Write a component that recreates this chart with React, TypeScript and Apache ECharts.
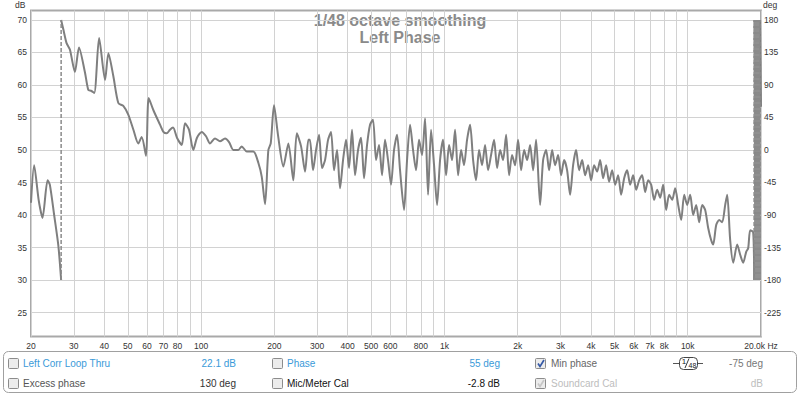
import React, { useEffect, useRef } from 'react';
import * as echarts from 'echarts';

// ---- data: min-phase trace (frequency in Hz, phase in degrees); wraps appear as -180 -> 180 jumps
const freqHz = [
  20, 20.6, 21.5, 22.3, 23.4, 23.9, 24.9, 25.9, 26.6,
  26.6, 27.2, 28.0, 28.9, 30.3, 31.5, 33.3, 34.4, 35.3, 36.4, 38.1, 40.3, 41.6, 43.6, 45.7, 47.9,
  50.2, 52.7, 55.2, 57.0, 59.4, 60.9, 63.7, 67.8, 70.0, 72.2, 74.5, 76.7, 79.6, 83.3, 85.9, 89.2,
  92.9, 96.2, 100.6, 104.8, 108.8, 114.1, 119.6, 125.4, 130.3, 135.7, 142.2, 146.9, 154, 164, 172,
  177.5, 183.2, 189, 193.3, 199.4, 207, 217.8, 228.4, 239.4, 247.4, 257.6, 267.5, 276,
  280, 288.5, 296.8, 305.3, 314.1, 323.2, 332.5, 342, 351.9, 362, 372.4, 383.2, 394.2, 405.6, 417.2,
  429.3, 441.6, 454.3, 467.4, 480.9, 494.7, 508.9, 523.6, 538.7, 554.2, 570.1, 586.6, 603.4, 620.8,
  638.7, 657.1, 682.5, 702.2, 722.4, 743.2, 764.6, 786.6, 809.3, 832.6, 856.6, 881.2, 906.6, 932.7,
  959.6, 987.2, 1016, 1045, 1075, 1106, 1138, 1171, 1204, 1239, 1275, 1312, 1349, 1388, 1428, 1469,
  1512, 1555, 1600, 1646, 1694, 1742, 1793, 1844, 1897, 1952, 2008, 2066, 2126, 2187, 2250, 2315,
  2381, 2473, 2544, 2618, 2693, 2771, 2850, 2933, 3017, 3104, 3193, 3285, 3380, 3477, 3577, 3681,
  3787, 3896, 4008, 4123, 4242, 4364, 4490, 4619, 4752, 4889, 5030, 5175, 5324, 5478, 5636, 5798,
  5965, 6137, 6314, 6496, 6683, 6875, 7073, 7277, 7487, 7702, 7924, 8152, 8387, 8629, 8878, 9134,
  9397, 9668, 9946, 10233, 10528, 10831, 11143, 11464, 11794, 12134, 12484, 12722, 13089, 13466,
  13854, 14253, 14525, 14944, 15374, 15965, 16425, 16898, 17385, 17717, 18055, 18575,
  18737, 18737, 18915, 18915, 19095, 19095, 19276, 19276, 19459, 19459, 19644, 19644, 19831, 19831, 20000,
];
const phaseDeg = [
  -73, -21, -69, -94, -42, -48, -90, -132, -180,
  180, 166, 148, 139, 108, 142, 108, 83, 82, 79, 155, 97, 134, 102, 65, 61,
  49, 28, 9, 18, -8, 72, 55, 35, 25, 23, 28, 31, 17, 7, 37, 28,
  0, 17, 25, 19, 9, 16, 12, 16, 11, 0, 0, 5, -2, -2, -18,
  -37, -75, 0, 9, 62, 21, -23, 9, -42, 23, 5, -30, 14,
  14, -28, 0, 21, -25, -14, 14, 25, -28, 0, -53, -14, 14, -25, 28,
  -35, 0, 17, -39, 7, 35, 42, -14, 7, -35, 14, -14, -48, 0,
  21, -28, -83, -14, 35, 0, -28, 14, -7, 44, -62, 28, -21, -76,
  -14, 14, -35, 7, -14, 28, -35, 0, -21, 14, 35, -14, -42, 0, -21, 7,
  -28, -7, 14, -25, 0, -14, 21, -35, -7, -21, 14, -28, 0, -14, 7, -28,
  14, -76, -14, 0, -28, 0, -21, -7, -35, -14, -28, -62, -21, 0, -28, -14,
  -35, -21, -42, -21, -30, -14, -39, -21, -44, -28, -48, -35, -62, -39, -28, -48,
  -35, -55, -42, -35, -58, -42, -48, -69, -55, -66, -48, -83, -62, -69, -53, -76,
  -97, -62, -76, -62, -90, -76, -100, -76, -83, -108, -125, -131, -104, -97,
  -100, -76, -62, -125, -156, -131, -145, -156, -141, -136, -111, -114,
  -180, 180, -180, 180, -180, 180, -180, 180, -180, 180, -180, 180, -180, 180, 60,
];

// ---- axes
const xGridValues = [20, 30, 40, 50, 60, 70, 80, 90, 100, 200, 300, 400, 500, 600, 700, 800, 900,
  1000, 2000, 3000, 4000, 5000, 6000, 7000, 8000, 9000, 10000, 20000];
const xLabelValues = [20, 30, 40, 50, 60, 70, 80, 100, 200, 300, 400, 500, 600, 800,
  1000, 2000, 3000, 4000, 5000, 6000, 7000, 8000, 10000, 20000];
const dbTicks = [25, 30, 35, 40, 45, 50, 55, 60, 65, 70];
const degTicks = [-225, -180, -135, -90, -45, 0, 45, 90, 135, 180];

const FONT = '"Liberation Sans", Arial, sans-serif';
const BLUE = '#3a9ad9';

function xLabel(v: number): string {
  const r = Math.round(v);
  if (r >= 20000) return '20.0k Hz';
  if (r >= 1000) return r / 1000 + 'k';
  return String(r);
}

function txt(text: string, x: number, y: number, fill: string, size = 10, align = 'left', weight = 'normal') {
  return {
    type: 'text', x, y, silent: true,
    style: {
      text, fill, fontSize: size, fontFamily: FONT, fontWeight: weight,
      align, textAlign: align, verticalAlign: 'middle', textVerticalAlign: 'middle',
    },
  };
}

function checkbox(x: number, y: number) {
  return {
    type: 'rect', silent: true,
    shape: { x, y, width: 10, height: 10, r: 1 },
    style: { fill: '#ececec', stroke: '#8c8c8c', lineWidth: 1 },
  };
}

function check(x: number, y: number, color: string) {
  return {
    type: 'polyline', silent: true,
    shape: { points: [[x + 2.5, y + 5], [x + 4.5, y + 8], [x + 8.5, y + 1.5]] },
    style: { stroke: color, lineWidth: 1.7, fill: 'none' },
  };
}

export default function App() {
  const ref = useRef<HTMLDivElement>(null);

  useEffect(() => {
    document.body.style.margin = '0';
    if (!ref.current) return;
    const chart = echarts.init(ref.current, undefined, { renderer: 'svg' });

    // split trace into solid segments and dashed wrap connectors
    const segments: number[][][] = [];
    const wraps: number[][][] = [];
    let cur: number[][] = [];
    for (let i = 0; i < freqHz.length; i++) {
      if (i > 0 && Math.abs(phaseDeg[i] - phaseDeg[i - 1]) >= 300) {
        segments.push(cur);
        wraps.push([[freqHz[i - 1], phaseDeg[i - 1]], [freqHz[i], phaseDeg[i]]]);
        cur = [];
      }
      cur.push([freqHz[i], phaseDeg[i]]);
    }
    if (cur.length) segments.push(cur);

    const series: any[] = [];
    segments.forEach((seg) => {
      series.push({
        type: 'line', yAxisIndex: 1, data: seg, symbol: 'none', smooth: 0.25,
        lineStyle: { color: '#7f7f7f', width: 2 }, silent: true,
      });
    });
    wraps.forEach((w) => {
      series.push({
        type: 'line', yAxisIndex: 1, data: w, symbol: 'none',
        lineStyle: { color: '#8a8a8a', width: 1.5, type: [4, 2] }, silent: true,
      });
    });

    const graphic: any[] = [
      txt('1/48 octave smoothing', 400, 20, '#8a8a8a', 16, 'center', 'bold'),
      txt('Left Phase', 400, 37, '#8a8a8a', 16, 'center', 'bold'),
      txt('dB', 15, 5, '#333', 8.5),
      txt('deg', 763, 5, '#333', 8.5),
      {
        type: 'rect', silent: true,
        shape: { x: 3.5, y: 351.5, width: 793, height: 41, r: 5 },
        style: { fill: '#fff', stroke: '#a0a0a0', lineWidth: 1 },
      },
      checkbox(8.5, 358.5), checkbox(8.5, 378.5),
      checkbox(272.5, 358.5), checkbox(272.5, 378.5),
      checkbox(535.5, 358.5), checkbox(535.5, 378.5),
      check(535.5, 358.5, '#3559a6'),
      check(535.5, 378.5, '#c6c6c6'),
      txt('Left Corr Loop Thru', 23, 363.5, BLUE),
      txt('22.1 dB', 236, 363.5, BLUE, 10, 'right'),
      txt('Phase', 287, 363.5, BLUE),
      txt('55 deg', 500, 363.5, BLUE, 10, 'right'),
      txt('Min phase', 551, 363.5, '#666'),
      txt('-75 deg', 763, 363.5, '#777', 10, 'right'),
      txt('Excess phase', 23, 383.5, '#555'),
      txt('130 deg', 236, 383.5, '#333', 10, 'right'),
      txt('Mic/Meter Cal', 287, 383.5, '#111'),
      txt('-2.8 dB', 500, 383.5, '#111', 10, 'right'),
      txt('Soundcard Cal', 551, 383.5, '#bdbdbd'),
      txt('dB', 763, 383.5, '#bdbdbd', 10, 'right'),
      {
        type: 'line', silent: true,
        shape: { x1: 673, y1: 363.5, x2: 679, y2: 363.5 },
        style: { stroke: '#555', lineWidth: 1 },
      },
      {
        type: 'line', silent: true,
        shape: { x1: 697, y1: 363.5, x2: 703, y2: 363.5 },
        style: { stroke: '#555', lineWidth: 1 },
      },
      {
        type: 'rect', silent: true,
        shape: { x: 679.5, y: 357.5, width: 18, height: 12, r: 4 },
        style: { fill: '#fff', stroke: '#444', lineWidth: 1 },
      },
      txt('1', 684, 361, '#222', 8, 'center'),
      {
        type: 'line', silent: true,
        shape: { x1: 685, y1: 368, x2: 689, y2: 358.5 },
        style: { stroke: '#222', lineWidth: 0.9 },
      },
      txt('48', 692.5, 365.5, '#222', 7, 'center'),
    ];

    chart.setOption({
      animation: false,
      grid: {
        left: 31, right: 39, top: 10.5, bottom: 59.5,
        show: true, borderColor: '#a9a9a9', borderWidth: 2, backgroundColor: '#fff',
      },
      xAxis: {
        type: 'log', logBase: 10, min: 20, max: 20000,
        axisLine: { show: false },
        axisTick: { show: false, customValues: xGridValues },
        axisLabel: {
          customValues: xLabelValues, formatter: xLabel,
          fontSize: 8.5, color: '#333', fontFamily: FONT, margin: 5, hideOverlap: false,
        },
        splitLine: { show: true, lineStyle: { color: '#d2d2d2', width: 1 } },
        minorSplitLine: { show: false },
      },
      yAxis: [
        {
          type: 'value', position: 'left', min: 21.31, max: 71.46,
          axisLine: { show: false },
          axisTick: { show: false, customValues: dbTicks },
          axisLabel: { customValues: dbTicks, fontSize: 8.5, color: '#333', fontFamily: FONT, margin: 4 },
          splitLine: { show: true, lineStyle: { color: '#d2d2d2', width: 1 } },
        },
        {
          type: 'value', position: 'right', min: -258.2, max: 193.1,
          axisLine: { show: false },
          axisTick: { show: false, customValues: degTicks },
          axisLabel: { customValues: degTicks, fontSize: 8.5, color: '#333', fontFamily: FONT, margin: 3 },
          splitLine: { show: false },
        },
      ],
      series,
      graphic,
    });

    return () => chart.dispose();
  }, []);

  return <div ref={ref} style={{ width: 800, height: 396, background: '#fff' }} />;
}
